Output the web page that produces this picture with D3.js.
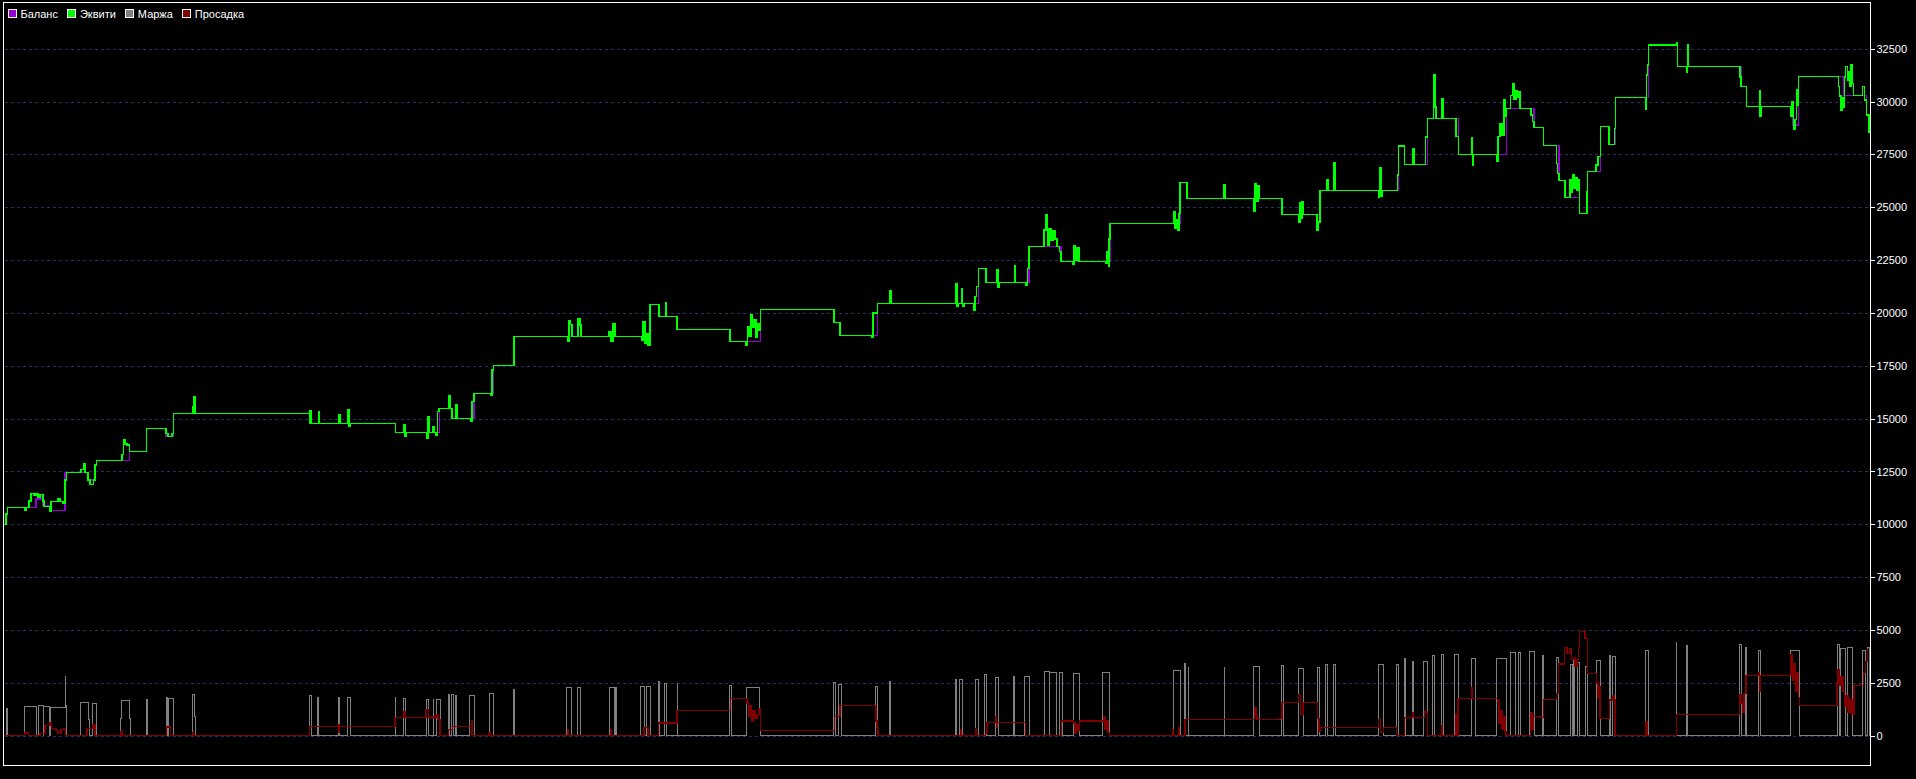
<!DOCTYPE html>
<html><head><meta charset="utf-8">
<script src="https://cdn.jsdelivr.net/npm/d3@7"></script>
<style>html,body{margin:0;padding:0;background:#000;overflow:hidden}</style>
</head><body><svg id="c" width="1916" height="779"></svg>
<script>
// ---- data (time index, value) ----
const seriesNames = ["Баланс", "Эквити", "Маржа", "Просадка"];
const seriesColors = ["#9400d3", "#00ff00", "#808080", "#800000"];
const yTicks = [0, 2500, 5000, 7500, 10000, 12500, 15000, 17500, 20000, 22500, 25000, 27500, 30000, 32500];
const timeSpan = [0, 1865];

const equity = [
[0,10000],[2,10490],[3.5,10800],[20.5,10680],[22,10800],[25,11100],[27,11465],[30,11380],[32,11465],[34,11300],[36,11400],[39,11100],[40,10830],[45.5,10600],[47,11070],[54,11230],[56,11070],[59,10990],[61,12095],[62.5,12460],[77,12600],[80,12880],[81,12460],[84,12095],[86,11890],[89.5,12100],[91,12805],[92.5,13026],[118,13300],[119.5,13990],[121,13800],[123,13750],[125.7,13451],[142.7,14540],[162,14300],[164,14144],[168,14300],[169.6,15249],[189,15560],[190,16020],[191,15249],
[305.2,14776],[306,15360],[307,14776],[314.3,15330],[315.5,14776],[335,15200],[336,14776],[344,15440],[345,14650],[346,14776],
[391.4,14351],[400,14700],[401,14150],[402,14351],[423,14070],[424,15090],[425,14350],[429,14620],[430,14351],[432,14220],[433.5,15325],[435,15486],[444.8,16070],[446,15486],[448,15013],[452,15640],[453,15013],[467,14850],[468,15800],[470,16195],[486.5,16115],[488,17300],[489.5,17501],[510,18891],
[563.4,18680],[565,19630],[566.5,19450],[568,18891],[574,19750],[576,19430],[577,18891],[605,19110],[607,18640],[609,19470],[611,18891],
[637.4,18700],[639,19580],[641,18560],[643,19000],[644,18450],[646,20406],[655,19838],[661.5,20500],[662.5,19838],[673,19223],[726,18655],[742,18450],[743.5,19350],[745,18900],[747,19900],[748.5,19300],[750,19700],[752,18870],[753.5,19500],[755,19200],[756.6,20175],
[830,19554],[836,18939],[868,18870],[869,20000],[873.6,20453],[886,21030],[887,20453],[952,21400],[953,20300],[954.5,20453],[957.5,21160],[958.5,20300],[960,20453],[970,20140],[971,20770],[972.5,21240],[974.5,22108],[982,21446],[993,22030],[994,21190],[995,21446],[1010.6,22215],[1011.6,21446],[1022,21285],[1023.5,22100],[1025,23149],
[1040,23920],[1042,24628],[1043.5,23200],[1045,24000],[1047,23450],[1049,23900],[1051,23500],[1053,23149],[1055.7,22900],[1057,22440],[1069,22300],[1070,23160],[1071.5,22500],[1073,23100],[1075,22440],[1102,22340],[1103,22890],[1104.5,22200],[1105,23500],[1106,24237],
[1169.6,24785],[1171,24000],[1172.5,24400],[1174,23920],[1175,24700],[1176,26176],[1183,25419],[1220,26050],[1221,25419],[1250,24830],[1251,26100],[1252.5,25300],[1254,26000],[1255.7,25419],[1278,24663],[1294.6,24310],[1296,25230],[1297,24500],[1298,25258],[1299.5,24663],
[1313,23920],[1314.5,24300],[1316,25797],[1322.8,26280],[1324,25797],[1330,27121],[1331.5,25797],[1374.5,25466],[1375.5,26885],[1377,25500],[1378.3,25797],[1393.6,26520],[1394.7,27893],[1400.5,27027],[1409,27784],[1410,27027],[1421.5,28330],[1423.4,29203],[1429.6,31250],[1431,29750],[1432,29203],[1438,30116],[1439,29203],[1451.8,28333],[1454.4,27500],[1467.4,28285],[1468.5,26962],[1469.5,27500],[1492.3,27150],[1494,28333],[1496,28964],[1498,28400],[1500,30069],[1501.5,29300],[1502.7,29659],[1506.5,30300],[1508.5,30858],[1510,30100],[1512,30500],[1513.5,30200],[1515,30450],[1516,29659],[1527,29359],[1528.5,29043],[1530,28777],[1539.4,27925],[1552.4,27074],[1553.5,26600],[1555,26270],[1560.8,25448],[1565.8,26285],[1567,25700],[1568.5,26520],[1570,25900],[1571.5,26400],[1573,25800],[1574.5,26300],[1575.4,24710],[1583,25731],[1583.4,26696],[1592,27000],[1594,27400],[1596.4,28806],[1605,27973],[1610.6,28730],[1611.4,30196],[1641.6,29627],[1642.5,31250],[1643.5,31723],[1644.3,32670],[1672.6,32798],[1673.6,31662],[1682.5,31407],[1683.2,32670],[1684,31662],[1736,31170],[1737,30716],[1742.6,29770],[1755.2,30494],[1756,29280],[1756.8,29770],[1786.6,29280],[1788,29990],[1789.5,28697],[1791,29150],[1792.5,30542],[1793.5,29800],[1794.5,31190],[1834.5,30700],[1835.6,30258],[1836.8,29596],[1838.3,30200],[1839.4,29750],[1840.6,31170],[1841.7,31645],[1843.3,30990],[1844.4,31400],[1846,30740],[1847.1,31725],[1848.2,30860],[1849.4,30273],[1858.6,30700],[1860.5,30069],[1862.4,29359],[1865,28494]
];

const balance = [
[0,10000],[2,10490],[3.5,10800],[32,11200],[39,10900],[46,10660],[61,12460],[84,12095],[91,12805],[92.5,13026],[125.7,13451],[142.7,14540],[162,14144],[169.6,15249],[305.2,14776],[391.4,14351],[435.5,15486],[448,15013],[470,16195],[489.5,17501],[510,18891],[646,20406],[655,19838],[673,19223],[726,18655],[756.6,20175],[830,19554],[836,18939],[873.6,20453],[974.5,22108],[982,21446],[1025,23149],[1057,22440],[1106,24237],[1176,26176],[1183,25419],[1278,24663],[1316,25797],[1394.7,27893],[1400.5,27027],[1423.4,29203],[1454.4,27500],[1502.7,29659],[1530,28777],[1539.4,27925],[1555,26270],[1560.8,25448],[1575.4,24710],[1583.4,26696],[1596.4,28806],[1605,27973],[1611.4,30196],[1644.3,32670],[1673.6,31662],[1737,30716],[1742.6,29770],[1789,28886],[1794.5,31190],[1839.4,30273],[1862.4,29359],[1865,28494]
];

const margin = [
[0,0],[2,1296],[3.3,0],[20,1390],[32.7,0],[34.3,1438],[39.3,0],[39.7,1390],[45.3,0],[46,1343],[61.3,2824],[61.8,1438],[62.3,0],
[76.3,1580],[84.3,743],[85.3,0],[88.3,1532],[92.7,0],
[116.5,837],[117.2,1674],[125.5,837],[126.3,0],
[142,1722],[143.3,0],[162,1830],[163.3,0],[164.3,1770],[169.3,0],[188.3,1958],[190.3,930],[191.3,0],
[305,1880],[307,0],[313.6,1830],[314.8,0],[334,1830],[335.6,0],[343.3,1816],[346.2,0],[391,1816],[391.6,0],[399.3,1770],[401,0],[422,1722],[424.6,0],[429,1722],[429.5,0],[432,1722],[436,0],[444,1958],[445.8,0],[447,1958],[449,0],[451,1880],[452.3,0],[465.8,1880],[470.7,0],[485,2005],[489.5,0],[509,2162],[510.3,0],[562,2290],[567.4,0],[573,2290],[576.4,0],[605,2290],[610.7,0],[611.5,2290],[612.7,0],
[636.8,2351],[640.9,0],[642.1,2351],[646.6,0],[654,2587],[655.6,0],[660.9,2493],[662.5,0],[673.1,2493],[673.6,0],[725.8,2398],[727.4,0],[742.1,2290],[755.6,1167],[756.4,0],[829.9,2540],[831.1,0],[834.8,2445],[837.6,0],[871.1,2351],[873.6,0],[885,2587],[886.6,0],[951.1,2682],[952.7,0],[955.2,2682],[958.4,0],[971.1,2682],[974.8,0],[980.9,2886],[982.5,0],[991.1,2776],[994.8,0],[1009.5,2790],[1010.7,0],[1020.9,2824],[1025.4,0],[1040.1,3060],[1045.4,0],[1045.8,3013],[1052.7,0],[1055.2,3013],[1058.4,0],[1069.1,2966],[1075.6,0],[1098.9,3013],[1105.4,0],[1169,3108],[1176.8,0],[1180.9,3392],[1181.5,0],[1184.2,3250],[1184.8,0],[1220,3250],[1220.6,0],[1249.9,3297],[1255.6,0],
[1277.9,3327],[1279.1,0],[1294.4,3170],[1299.7,0],[1313.5,3217],[1315.8,0],[1321.9,3359],[1323.5,0],[1329.6,3359],[1331.1,0],[1374.4,3359],[1379.3,0],[1392.7,3359],[1394.6,0],[1400.4,3643],[1401,0],[1408.4,3501],[1409.9,0],[1419.9,3501],[1423.3,0],[1428.3,3800],[1430.6,0],[1437.5,3832],[1439,0],[1450.9,3832],[1454.3,0],[1467.4,3643],[1471.2,0],[1492.6,3643],[1502.2,0],[1506,3927],[1511,0],[1514.8,3927],[1516.3,0],[1525.9,3974],[1530.5,0],
[1538.7,3817],[1539.3,0],[1552,3708],[1554.3,0],[1566,3391],[1568.7,0],[1569.3,3550],[1570.3,0],[1573.7,3453],[1575.3,0],[1581,3296],[1583.3,0],[1592,3566],[1596.7,0],[1605,3817],[1606,0],[1608,3737],[1611.3,0],[1641.3,4039],[1644.7,0],
[1672.1,4400],[1672.7,0],[1682.4,4290],[1683,0],[1735.2,4320],[1737.5,0],[1741.7,4163],[1742.9,0],[1754.4,4053],[1756.7,0],[1786.1,4053],[1795.3,0],[1833.2,4320],[1835.5,0],[1836.6,4132],[1841.6,0],[1843.5,4163],[1848.9,0],[1858.9,4053],[1861.5,0],[1863.4,4163],[1865,0]
];

const drawdown = [
[0,0],[20.5,128],[24.5,0],[36,113],[41,473],[46,615],[47.5,350],[52,250],[54,113],[57,300],[60,350],[61.5,0],[83,350],[89,506],[91,0],[117,190],[118,0],[162.5,411],[166.6,0],[188.2,150],[189,0],
[305.4,444],[334,540],[335,140],[335.6,444],[391.1,870],[399.3,1120],[401,870],[422,1245],[424.6,880],[431.9,1000],[434,770],[436,0],[444.2,300],[448.2,444],[467.4,690],[468,0],[485,140],[485.8,0],[563.3,270],[564,0],[606.2,300],[607,0],
[640,394],[644,0],[654.4,601],[673.1,1201],[726.6,1769],[742.9,1550],[744.5,900],[746,1400],[747.5,700],[749,1200],[751,800],[753,1000],[755,1300],[756.4,255],[830.3,899],[836,1438],[871.9,700],[873,378],[874,0],[956.4,300],[957,0],[971.5,330],[972.2,0],[981.7,110],[982.9,634],[991.9,900],[992.5,380],[993.2,634],[1021.7,0],[1057.6,695],[1069.5,600],[1071,100],[1072.5,500],[1074,250],[1075.6,695],[1099.3,900],[1101,300],[1102.5,700],[1104,150],[1105.4,0],[1168.7,270],[1169.3,0],[1174.8,380],[1175.4,0],[1180.9,776],[1250.7,1325],[1252,930],[1253.1,776],
[1276,804],[1277.9,1577],[1294.4,1950],[1296.5,1000],[1299,1577],[1313.5,800],[1315,200],[1316.2,378],[1374.7,770],[1376.5,150],[1379.3,378],[1392.7,0],[1400.4,852],[1408.4,1090],[1409.5,852],[1420.7,1120],[1423.3,0],[1437.5,460],[1438.2,0],[1452,1010],[1453,0],[1454,1766],[1467.4,2270],[1468.2,1766],[1493.4,1650],[1495,600],[1496.5,1200],[1498,300],[1499.5,900],[1501,200],[1501.8,0],[1526.7,1100],[1528,300],[1529,899],
[1536,870],[1539.3,1722],[1552.7,2005],[1554.3,3391],[1560.3,4181],[1563,3900],[1566,4100],[1567.5,3600],[1569.3,3700],[1571,3300],[1573,3600],[1574.3,4181],[1575.3,4938],[1581,4600],[1583.3,2951],[1592.7,2500],[1594,1800],[1595,2300],[1596,823],[1605.3,1689],[1608.7,1900],[1610,1700],[1611,0],[1641.5,650],[1643,0],
[1672.5,993],[1735.2,1940],[1737,1550],[1738.5,1100],[1740,2000],[1742.1,2838],[1754.4,3000],[1755.5,2100],[1756.5,2838],[1786.9,3848],[1788.5,2600],[1790,3400],[1791.5,2100],[1793,3000],[1794.5,1800],[1795.3,1419],[1832.8,2500],[1834,3100],[1835.5,2400],[1837,2800],[1839,2100],[1840.5,1400],[1842,1900],[1844,1100],[1846,1700],[1848,1000],[1850,2365],[1859.6,3000],[1861.5,3500],[1863.5,4084],[1865,4084]
];

// ---- layout ----
const svg = d3.select("#c");
const W = 1916, H = 779;
const frame = {left: 3.5, top: 2.5, right: 1870.5, bottom: 765.5};
const FONT = "'Liberation Sans', Arial, sans-serif";

svg.append("rect").attr("width", W).attr("height", H).attr("fill", "#000");

const x = d3.scaleLinear().domain(timeSpan).range([4, 1869]);
const y = d3.scaleLinear().domain([0, 32500]).range([735.7, 48.7]);

// grid
svg.append("g").selectAll("line").data(yTicks).join("line")
  .attr("x1", frame.left + 1).attr("x2", frame.right - 1)
  .attr("y1", d => Math.round(y(d)) + 0.5).attr("y2", d => Math.round(y(d)) + 0.5)
  .attr("stroke", "#2c2c5e").attr("stroke-width", 1)
  .attr("stroke-dasharray", "3,3").attr("shape-rendering", "crispEdges");

// clip
svg.append("clipPath").attr("id", "plot").append("rect")
  .attr("x", frame.left + 0.5).attr("y", frame.top + 0.5)
  .attr("width", frame.right - frame.left - 1).attr("height", frame.bottom - frame.top - 1);

const line = d3.line().x(d => x(d[0])).y(d => y(d[1])).curve(d3.curveStepAfter);
const plot = svg.append("g").attr("clip-path", "url(#plot)");

const draw = (data, color, w) => plot.append("path").datum(data)
  .attr("d", line).attr("fill", "none").attr("stroke", color)
  .attr("stroke-width", w).attr("shape-rendering", "crispEdges");

draw(margin, seriesColors[2], 1);
draw(drawdown, seriesColors[3], 1.4);
draw(balance, seriesColors[0], 1.4);
draw(equity, seriesColors[1], 1.4);

// frame
svg.append("rect")
  .attr("x", frame.left).attr("y", frame.top)
  .attr("width", frame.right - frame.left).attr("height", frame.bottom - frame.top)
  .attr("fill", "none").attr("stroke", "#fff").attr("stroke-width", 1)
  .attr("shape-rendering", "crispEdges");

// y axis (right)
const axis = svg.append("g").attr("transform", `translate(${frame.right},0)`)
  .call(d3.axisRight(y).tickValues(yTicks).tickSize(4).tickPadding(2).tickFormat(d3.format("d")));
axis.select(".domain").remove();
axis.selectAll("line").attr("stroke", "#fff").attr("shape-rendering", "crispEdges");
axis.selectAll("text").attr("fill", "#fff").style("font-family", FONT).style("font-size", "11px");

// legend
const leg = svg.append("g");
let lx = 8.5;
seriesNames.forEach((name, i) => {
  leg.append("rect").attr("x", lx).attr("y", 9.5).attr("width", 8).attr("height", 8)
    .attr("fill", seriesColors[i]).attr("stroke", "#fff").attr("stroke-width", 1)
    .attr("shape-rendering", "crispEdges");
  const t = leg.append("text").attr("x", lx + 12).attr("y", 17.5)
    .attr("fill", "#fff").style("font-family", FONT).style("font-size", "11px").text(name);
  lx += 12 + t.node().getComputedTextLength() + 10;
});
</script>
</body></html>
